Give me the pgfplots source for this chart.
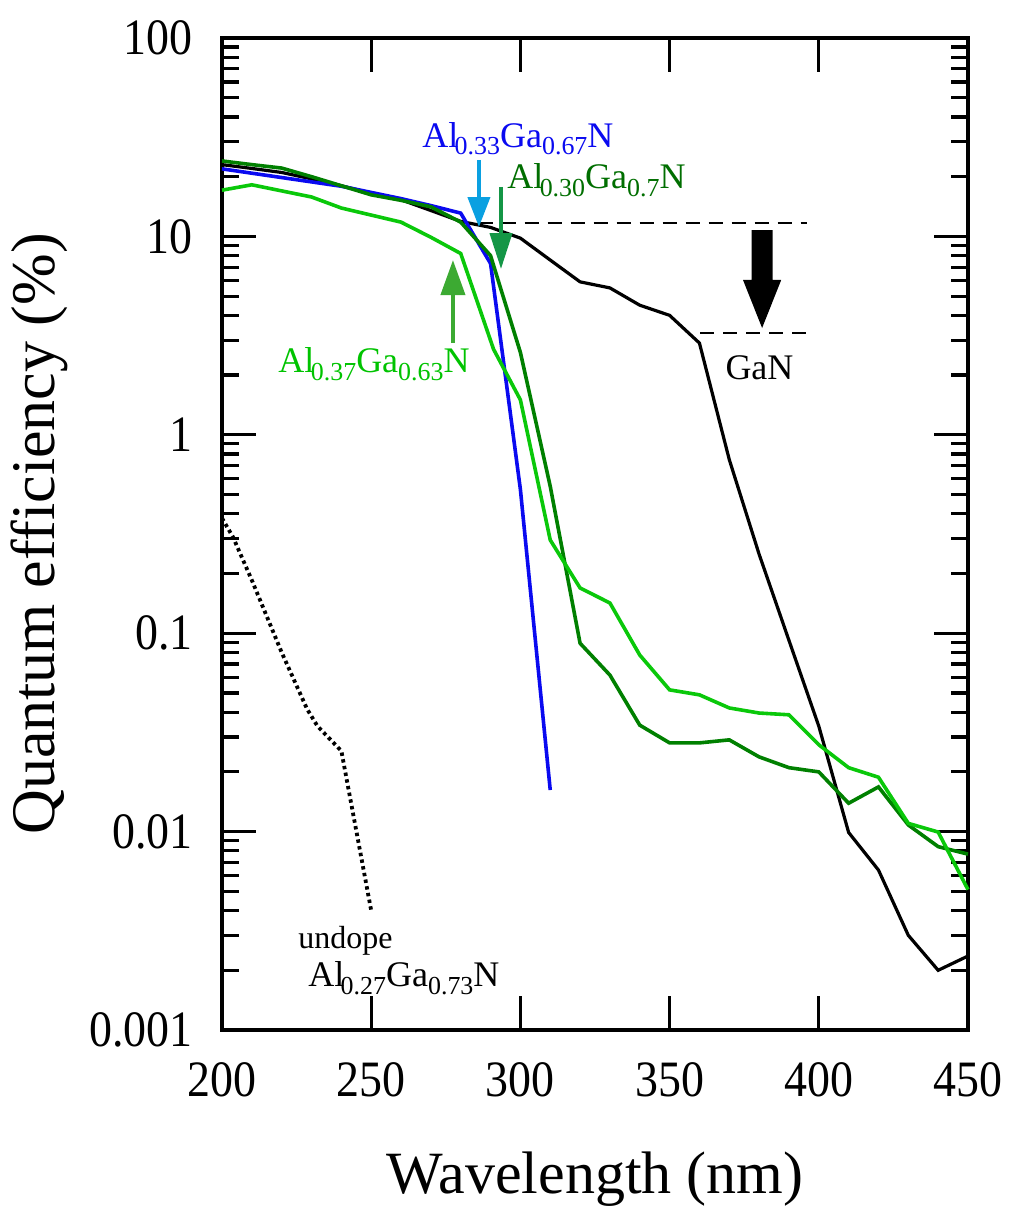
\documentclass[border=0pt]{standalone}
\usepackage{fontspec}
\usepackage{graphicx}
\usepackage{pgfplots}
\pgfplotsset{compat=1.18}
\usetikzlibrary{arrows.meta}
\setmainfont{Liberation Serif}
\newfontfamily\tickfont{Liberation Serif}[FakeStretch=0.9]
\definecolor{cblue}{RGB}{10,10,240}
\definecolor{cdgreen}{RGB}{0,128,0}
\definecolor{clgreen}{RGB}{10,200,10}
\definecolor{tdgreen}{RGB}{0,110,0}
\definecolor{tlgreen}{RGB}{0,195,0}
\definecolor{acyan}{RGB}{10,160,225}
\definecolor{adgreen}{RGB}{20,150,70}
\definecolor{algreen}{RGB}{60,170,50}
\newcommand{\sub}[1]{\raisebox{-0.22em}{\scalebox{0.72}{#1}}}
\begin{document}
\begin{tikzpicture}
\useasboundingbox (-111pt,-97.5pt) rectangle (401pt,515pt);
\begin{axis}[
  scale only axis, width=373pt, height=496pt,
  at={(0,0)}, anchor=south west,
  ymode=log, xmin=200, xmax=450, ymin=0.001, ymax=100,
  xtick={200,250,300,350,400,450},
  xticklabels={200,250,300,350,400,450},
  ytick={0.001,0.01,0.1,1,10,100},
  yticklabels={0.001,0.01,0.1,1,10,100},
  minor x tick num=0,
  tick align=inside,
  major tick length=17pt, minor tick length=8.5pt,
  every tick/.style={line width=1.6pt, black},
  axis line style={line width=1.9pt},
  /pgf/number format/assume math mode=true,
  ticklabel style={font=\tickfont\fontsize{25.5}{30}\selectfont},
  xticklabel style={anchor=north, inner sep=0pt, yshift=-16pt},
  yticklabel style={anchor=east, inner sep=0pt, xshift=-14.5pt},
  xlabel={Wavelength (nm)}, ylabel={Quantum efficiency (\%)},
  xlabel style={at={(axis description cs:0.5,-0.1643)}, anchor=base, inner sep=0pt, font=\fontsize{30}{36}\selectfont},
  ylabel style={at={(axis description cs:-0.2239,0.5)}, anchor=base, inner sep=0pt, font=\fontsize{31}{36}\selectfont},
  clip=false,
]
% GaN
\addplot[black, line width=1.6pt] coordinates {
(200,23) (210,22) (220,21) (230,19.5) (240,18) (250,16.5) (260,15.3) (270,13.5)
(280,11.9) (290,11.1) (300,9.8) (310,7.6) (320,5.9) (330,5.5) (340,4.5) (350,4.0)
(360,2.9) (370,0.75) (380,0.25) (390,0.092) (400,0.034) (410,0.0099) (420,0.0064)
(430,0.0030) (440,0.0020) (450,0.00236)};
% Al0.33Ga0.67N
\addplot[cblue, line width=1.8pt] coordinates {
(200,21.9) (220,19.8) (240,17.9) (260,15.5) (270,14.3) (280,13.1) (290,7.3)
(300,0.53) (310,0.0162)};
% Al0.30Ga0.7N
\addplot[cdgreen, line width=1.8pt] coordinates {
(200,24) (210,23) (220,22.1) (230,20) (240,18) (250,16.2) (260,15.2) (270,14.1)
(280,11.8) (290,8.0) (300,2.6) (310,0.55) (320,0.089) (330,0.0615) (340,0.0344)
(350,0.028) (360,0.028) (370,0.029) (380,0.0238) (390,0.021) (400,0.020)
(410,0.0139) (420,0.0168) (430,0.0108) (440,0.0084) (450,0.0077)};
% Al0.37Ga0.63N
\addplot[clgreen, line width=1.8pt] coordinates {
(200,17.1) (210,18.2) (230,15.8) (240,13.9) (260,11.8) (270,9.9) (280,8.2)
(291,2.7) (300,1.5) (310,0.295) (320,0.169) (330,0.142) (340,0.0776) (350,0.0518)
(360,0.0489) (370,0.042) (380,0.0396) (390,0.0388) (400,0.0274) (410,0.021)
(420,0.0188) (430,0.011) (440,0.00995) (450,0.0051)};
% undoped Al0.27Ga0.73N
\addplot[black, line width=1.9pt, dash pattern=on 1.7pt off 1.7pt] coordinates {
(200,0.38) (203.7,0.305) (210,0.185) (220,0.08) (228.5,0.0415) (232,0.034)
(240,0.0255) (250,0.004)};
% dashed guide lines
\draw[black, line width=1.3pt, dash pattern=on 7pt off 4.5pt] (axis cs:286,11.68) -- (axis cs:396,11.68);
\draw[black, line width=1.3pt, dash pattern=on 7pt off 4.5pt] (axis cs:360.2,3.26) -- (axis cs:398.7,3.26);
% big arrow
\fill[black] (axis cs:377.5,10.77) -- (axis cs:384.5,10.77) -- (axis cs:384.5,6.03)
  -- (axis cs:387.4,6.03) -- (axis cs:381,3.454) -- (axis cs:374.6,6.03)
  -- (axis cs:377.5,6.03) -- cycle;
% coloured arrows
\draw[acyan, line width=2pt, -{Triangle[length=15pt,width=11pt]}] (axis cs:286.1,24.3) -- (axis cs:286.1,11.15);
\draw[adgreen, line width=2pt, -{Triangle[length=18pt,width=11pt]}] (axis cs:293.5,17.75) -- (axis cs:293.5,6.85);
\draw[algreen, line width=2pt, -{Triangle[length=17.5pt,width=12pt]}] (axis cs:277.4,2.90) -- (axis cs:277.4,7.60);
% labels
\node[anchor=base west, inner sep=0pt, text=cblue, font=\fontsize{18}{20}\selectfont] at (axis cs:267,28.2) {Al\kern-0.1em\sub{0.33}Ga\sub{0.67}N};
\node[anchor=base west, inner sep=0pt, text=tdgreen, font=\fontsize{18}{20}\selectfont] at (axis cs:295.5,17.5) {Al\kern-0.1em\sub{0.30}Ga\sub{0.7}N};
\node[anchor=base west, inner sep=0pt, text=tlgreen, font=\fontsize{18}{20}\selectfont] at (axis cs:218.8,2.07) {Al\kern-0.1em\sub{0.37}Ga\sub{0.63}N};
\node[anchor=base west, inner sep=0pt, text=black, font=\fontsize{18}{20}\selectfont] at (axis cs:368.6,1.89) {GaN};
\node[anchor=base west, inner sep=0pt, text=black, font=\fontsize{16}{18}\selectfont] at (axis cs:225.5,0.00259) {undope};
\node[anchor=base west, inner sep=0pt, text=black, font=\fontsize{18}{20}\selectfont] at (axis cs:228.8,0.00165) {Al\kern-0.1em\sub{0.27}Ga\sub{0.73}N};
\end{axis}
\end{tikzpicture}
\end{document}
